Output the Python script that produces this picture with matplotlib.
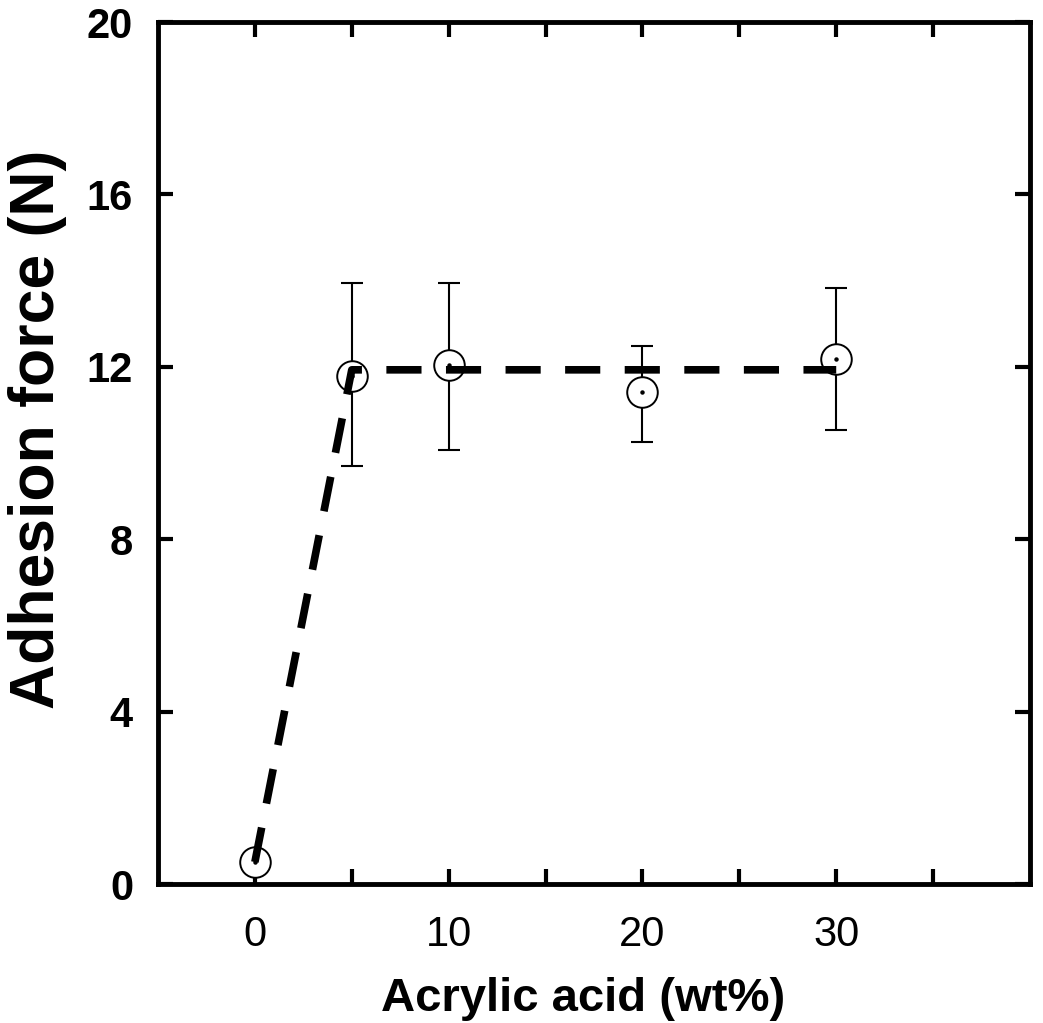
import matplotlib
matplotlib.use("Agg")
import matplotlib.pyplot as plt
from matplotlib.ticker import FixedLocator, FixedFormatter

# Data
acrylic = [0, 5, 10, 20, 30]
force = [0.51, 11.79, 12.04, 11.41, 12.18]
err_low = [0.0, 2.09, 1.97, 1.15, 1.65]
err_high = [0.0, 2.15, 1.90, 1.07, 1.65]
fit_x = [0, 5, 30]
fit_y = [0.51, 11.93, 11.93]

x_ticks = [0, 5, 10, 15, 20, 25, 30, 35]
x_labels = ["0", "", "10", "", "20", "", "30", ""]
y_ticks = [0, 4, 8, 12, 16, 20]
y_labels = ["0", "4", "8", "12", "16", "20"]

plt.rcParams['font.family'] = ['Liberation Sans', 'DejaVu Sans']

fig = plt.figure(figsize=(10.43, 10.23), dpi=100)
ax = fig.add_axes([158/1043, (1023-884)/1023, (1030-158)/1043, (884-22)/1023])

ax.errorbar(acrylic, force, yerr=[err_low, err_high], fmt='none',
            ecolor='black', elinewidth=1.5, capsize=8, capthick=1.5, zorder=2)
ax.plot(acrylic, force, linestyle='none', marker='o', markersize=22,
        markerfacecolor='white', markeredgecolor='black', markeredgewidth=1.4, zorder=3)
ax.plot(acrylic, force, linestyle='none', marker='o', markersize=2.2,
        color='black', zorder=4)
ax.plot(fit_x, fit_y, color='black', linewidth=5.5, linestyle=(0, (4.6, 3.2)),
        zorder=5, solid_capstyle='butt', dash_capstyle='butt')

ax.set_xlim(-5, 40)
ax.set_ylim(0, 20)

ax.xaxis.set_major_locator(FixedLocator(x_ticks))
ax.xaxis.set_major_formatter(FixedFormatter(x_labels))
ax.yaxis.set_major_locator(FixedLocator(y_ticks))
ax.yaxis.set_major_formatter(FixedFormatter(y_labels))

ax.tick_params(axis='both', direction='in', length=11, width=3,
               top=True, right=True, color='black')
ax.tick_params(axis='x', labelsize=30, pad=22)
ax.tick_params(axis='y', labelsize=30, pad=18)
for lab in ax.get_yticklabels():
    lab.set_fontweight('bold')

for sp in ax.spines.values():
    sp.set_linewidth(3.5)
    sp.set_color('black')

ax.set_xlabel("Acrylic acid (wt%)", fontsize=34, fontweight='bold', labelpad=16)
ax.set_ylabel("Adhesion force (N)", fontsize=45, fontweight='bold', labelpad=14)
ax.xaxis.label.set_x(0.487)
ax.yaxis.label.set_y(0.527)

fig.savefig("out.png", dpi=100)
